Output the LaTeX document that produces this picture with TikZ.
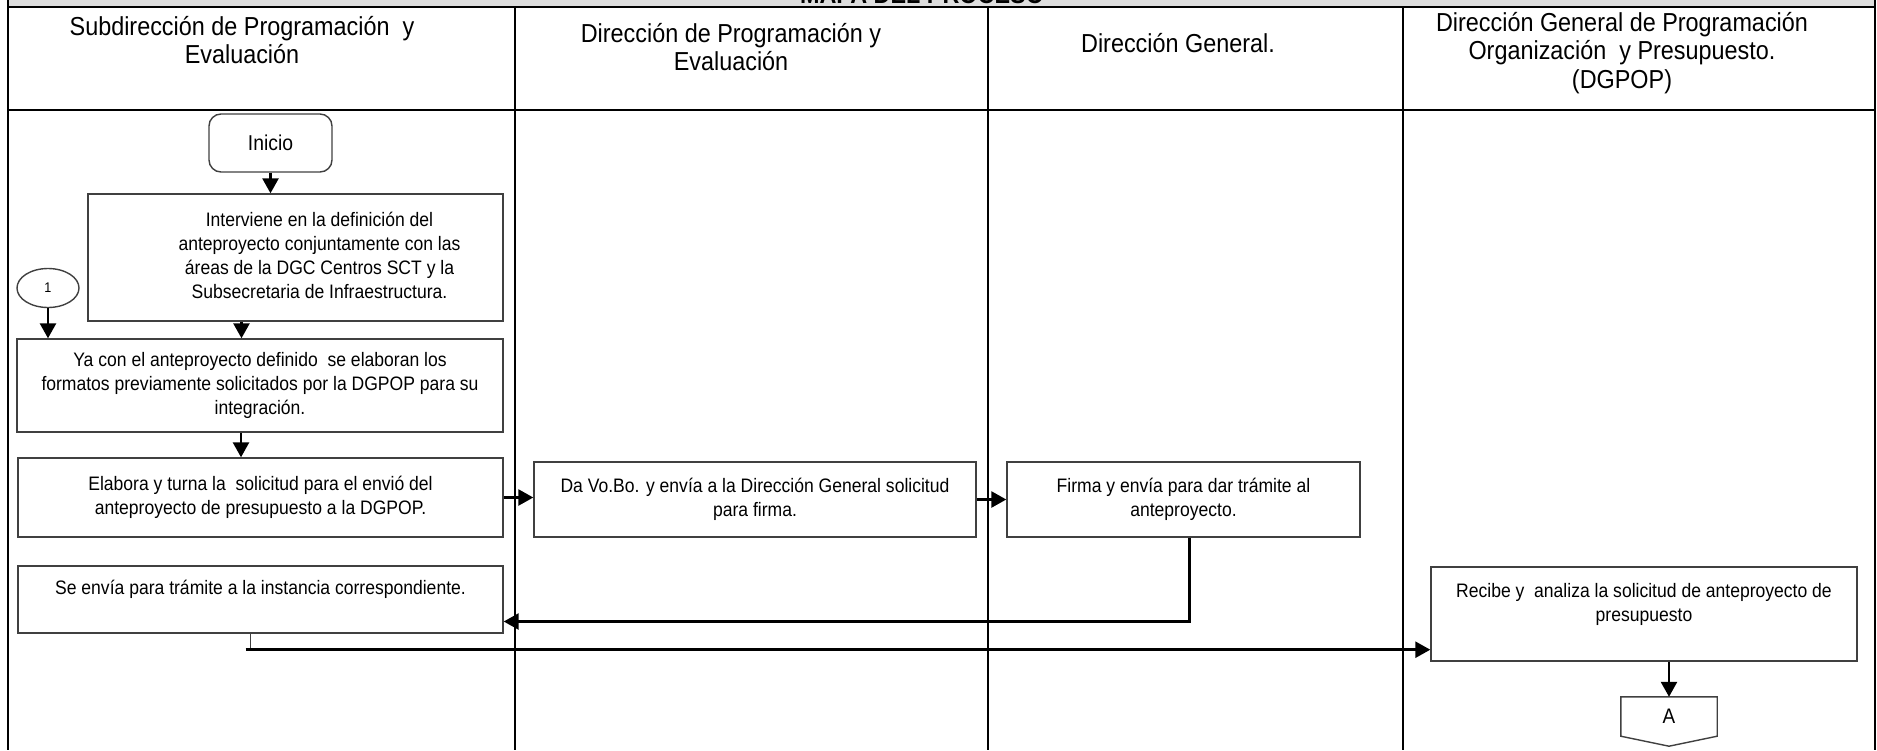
\documentclass[tikz,border=0pt]{standalone}
\usepackage{fontspec}
\setmainfont[FakeStretch=0.9]{Liberation Sans}
\usepackage{tikz}
\usetikzlibrary{arrows.meta, shapes.geometric}
\definecolor{bandgray}{RGB}{221, 221, 221}
\definecolor{boxline}{RGB}{64, 64, 64}

\begin{document}
\begin{tikzpicture}[
  x=1pt, y=-1pt,
  lane/.style={line width=2.2pt},
  head/.style={align=center, font=\fontsize{26}{28.5}\selectfont},
  proc/.style={rectangle, draw=boxline, line width=1.4pt, align=center,
               inner sep=0pt, font=\fontsize{19.5}{24}\selectfont},
  term/.style={proc, rounded corners=12pt, font=\fontsize{21.5}{24}\selectfont},
  conn/.style={ellipse, draw=boxline, line width=1.4pt, inner sep=0pt,
               font=\fontsize{14}{16}\selectfont},
  arrow/.style={-{Triangle[length=15pt, width=16pt]}, line width=2.6pt}
]
\useasboundingbox (0,0) rectangle (1877,750);
\clip (0,0) rectangle (1877,750);

% marco y carriles
\fill[bandgray] (8,0) rectangle (1875,7);
\node[font=\bfseries\fontsize{26}{28}\selectfont, anchor=base] (title) at (922,3) {MAPA DEL PROCESO};
\draw[lane] (8,0) -- (8,750);
\draw[lane] (1875,0) -- (1875,750);
\draw[lane] (8,7) -- (1875,7);
\draw[lane] (8,110) -- (1875,110);
\foreach \x in {515,988,1403} \draw[lane] (\x,7) -- (\x,750);

\node[head] (h1) at (242,40)   {Subdirección de Programación\ \ y\\Evaluación};
\node[head] (h2) at (731,47)   {Dirección de Programación y\\Evaluación};
\node[head] (h3) at (1178,43)  {Dirección General.};
\node[head] (h4) at (1622,53)  {Dirección General de Programación\\Organización\ \ y Presupuesto.\\(DGPOP)};

% pasos
\node[term, minimum width=123, minimum height=58] (ini) at (270.5,143) {Inicio};
\node[proc, minimum width=415, minimum height=127] (inter) at (295.5,257.5)
  {\hspace*{48pt}\begin{tabular}{@{}c@{}}Interviene en la definición del\\anteproyecto conjuntamente con las\\áreas de la DGC Centros SCT y la\\Subsecretaria de Infraestructura.\end{tabular}};
\node[conn, minimum width=62, minimum height=39] (c1) at (48,288) {1};
\node[proc, minimum width=486, minimum height=93] (yacon) at (260,385.5)
  {Ya con el anteproyecto definido\ \ se elaboran los\\formatos previamente solicitados por la DGPOP para su\\integración.};
\node[proc, minimum width=485, minimum height=79] (elabora) at (260.5,497.5)
  {Elabora y turna la\ \ solicitud para el envió del\\anteproyecto de presupuesto a la DGPOP.};
\node[proc, minimum width=485, minimum height=67] (envia) at (260.5,599.5)
  {Se envía para trámite a la instancia correspondiente.\\\mbox{}};
\node[proc, minimum width=442, minimum height=75] (vobo) at (755,499.5)
  {Da Vo.Bo. y envía a la Dirección General solicitud\\para firma.};
\node[proc, minimum width=353, minimum height=75] (firma) at (1183.5,499.5)
  {Firma y envía para dar trámite al\\anteproyecto.};
\node[proc, minimum width=426, minimum height=94] (recibe) at (1644,614)
  {Recibe y\ \ analiza la solicitud de anteproyecto de\\presupuesto\\\mbox{}};
\node[inner sep=0pt, minimum width=96, minimum height=39,
      font=\fontsize{21}{24}\selectfont] (conA) at (1669,716.5) {A};
\draw[boxline, line width=1.4pt] (conA.north west) -- (conA.north east)
  -- (conA.south east) -- ([yshift=-10pt]conA.south) -- (conA.south west) -- cycle;
\coordinate (envturn) at ([xshift=-10pt, yshift=-16pt]envia.south);

% flechas
\draw[arrow] (ini.south) -- (ini.south |- inter.north);
\draw[arrow] ([xshift=-54pt]inter.south) -- ([xshift=-54pt]inter.south |- yacon.north);
\draw[arrow] (c1.south) -- (c1.south |- yacon.north);
\draw[arrow] ([xshift=-19pt]yacon.south) -- ([xshift=-19pt]yacon.south |- elabora.north);
\draw[arrow] (elabora.east) -- (elabora.east -| vobo.west);
\draw[arrow] (vobo.east) -- (vobo.east -| firma.west);
\draw[arrow] ([xshift=6pt]firma.south) |- ([yshift=-22pt]envia.east);
\draw[boxline, line width=1.2pt] ([xshift=-10pt]envia.south) -- (envturn);
\draw[arrow] ([xshift=-5pt]envturn) -- (envturn -| recibe.west);
\draw[arrow] (conA.north |- recibe.south) -- (conA.north);
\end{tikzpicture}
\end{document}
